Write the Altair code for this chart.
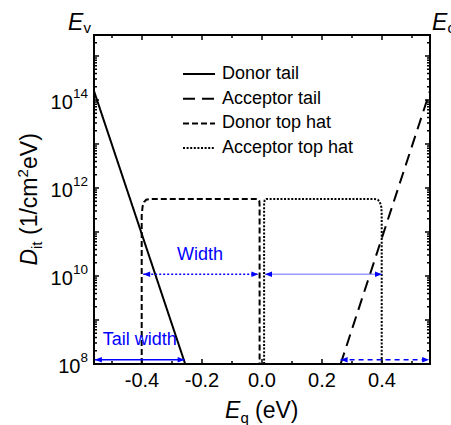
import altair as alt
import pandas as pd

# ---- trap distributions: energy E (eV) vs. interface trap density D_it (1/cm^2 eV)
donor_tail_E = [-0.56, -0.256]
donor_tail_D = [1.6e14, 1e8]

acceptor_tail_E = [0.262, 0.56]
acceptor_tail_D = [1e8, 1.6e14]

donor_hat_E = [-0.401, -0.401, -0.398, -0.393, -0.386, -0.375, -0.013, -0.009, -0.008, -0.008]
donor_hat_D = [1e8, 2.4e11, 3.8e11, 4.8e11, 5.4e11, 5.6e11, 5.6e11, 5.1e11, 4.0e11, 1e8]

acceptor_hat_E = [0.007, 0.007, 0.009, 0.014, 0.376, 0.386, 0.393, 0.398, 0.399, 0.399]
acceptor_hat_D = [1e8, 4.5e11, 5.3e11, 5.6e11, 5.6e11, 5.4e11, 4.8e11, 3.6e11, 2.4e11, 1e8]

series_names = ["Donor tail", "Acceptor tail", "Donor top hat", "Acceptor top hat"]

# ---- blue dimension arrows
arrow_names = ["tail_left", "width_left", "width_right", "tail_right"]
arrow_x1 = [-0.557, -0.396, 0.010, 0.262]
arrow_x2 = [-0.258, -0.012, 0.400, 0.557]
arrow_y = [1.25e8, 1.1e10, 1.1e10, 1.25e8]

note_text = ["Width", "Tail width"]
note_E = [-0.207, -0.531]
note_D = [3.0e10, 3.5e8]

# ---- tick labels
x_label_values = [-0.4, -0.2, 0.0, 0.2, 0.4]
x_label_text = ["-0.4", "-0.2", "0.0", "0.2", "0.4"]
y_label_exponents = [8, 10, 12, 14]

# ---------------------------------------------------------------------------
W, H = 336, 329
FONT = "Liberation Sans"
BLUE = "#0000ff"

xs = alt.Scale(domain=[-0.56, 0.56], nice=False, zero=False)
ys = alt.Scale(type="log", domain=[1e8, 3e15], nice=False)

dash_scale = alt.Scale(
    domain=series_names,
    range=[[1, 0], [12, 7], [6, 3], [2, 1.6]],
)

rows = []
for name, es, ds in [
    ("Donor tail", donor_tail_E, donor_tail_D),
    ("Acceptor tail", acceptor_tail_E, acceptor_tail_D),
    ("Donor top hat", donor_hat_E, donor_hat_D),
    ("Acceptor top hat", acceptor_hat_E, acceptor_hat_D),
]:
    for i, (e, d) in enumerate(zip(es, ds)):
        rows.append({"series": name, "E": e, "D": d, "idx": i})
curves_df = pd.DataFrame(rows)

curves = alt.Chart(curves_df).mark_line(color="black", strokeWidth=2, clip=True).encode(
    x=alt.X("E:Q", scale=xs, axis=None),
    y=alt.Y("D:Q", scale=ys, axis=None),
    strokeDash=alt.StrokeDash("series:N", scale=dash_scale, legend=None),
    detail="series:N",
    order="idx:Q",
)

# ---- plot frame: four edges of the plotting area, in pixels
frame_df = pd.DataFrame({
    "fx1": [-1, -1, 0, W],
    "fx2": [W + 1, W + 1, 0, W],
    "fy1": [0, H, -1, -1],
    "fy2": [0, H, H + 1, H + 1],
})
frame = alt.Chart(frame_df).mark_rule(color="black", strokeWidth=2).encode(
    x=alt.X("fx1:Q", scale=None, axis=None),
    x2="fx2:Q",
    y=alt.Y("fy1:Q", scale=None, axis=None),
    y2="fy2:Q",
)

# ---- arrows: one layer per arrow so each keeps its own line style
arrows_df = pd.DataFrame({"name": arrow_names, "x1": arrow_x1, "x2": arrow_x2, "y": arrow_y})
arrow_styles = {
    "tail_left": dict(strokeDash=[1, 0], strokeWidth=1.5, opacity=1),
    "width_left": dict(strokeDash=[2, 2], strokeWidth=1.5, opacity=1),
    "width_right": dict(strokeDash=[1, 0], strokeWidth=1, opacity=0.6),
    "tail_right": dict(strokeDash=[5, 4], strokeWidth=1.5, opacity=1),
}
arrow_layers = []
for name, style in arrow_styles.items():
    arrow_layers.append(
        alt.Chart(arrows_df).transform_filter(f"datum.name == '{name}'")
        .mark_rule(color=BLUE, **style)
        .encode(
            x=alt.X("x1:Q", scale=xs, axis=None),
            x2="x2:Q",
            y=alt.Y("y:Q", scale=ys, axis=None),
        )
    )
head_left = alt.Chart(arrows_df).mark_point(
    shape="M0,0L2,-0.8L2,0.8Z", filled=True, color=BLUE, size=49, opacity=1
).encode(x=alt.X("x1:Q", scale=xs, axis=None), y=alt.Y("y:Q", scale=ys, axis=None))
head_right = alt.Chart(arrows_df).mark_point(
    shape="M0,0L-2,-0.8L-2,0.8Z", filled=True, color=BLUE, size=49, opacity=1
).encode(x=alt.X("x2:Q", scale=xs, axis=None), y=alt.Y("y:Q", scale=ys, axis=None))

notes_df = pd.DataFrame({"t": note_text, "E": note_E, "D": note_D,
                         "al": ["center", "left"]})
note_width = alt.Chart(notes_df).transform_filter("datum.al == 'center'").mark_text(
    font=FONT, fontSize=18, color=BLUE, align="center", baseline="middle"
).encode(x=alt.X("E:Q", scale=xs, axis=None), y=alt.Y("D:Q", scale=ys, axis=None), text="t:N")
note_tail = alt.Chart(notes_df).transform_filter("datum.al == 'left'").mark_text(
    font=FONT, fontSize=18, color=BLUE, align="left", baseline="middle"
).encode(x=alt.X("E:Q", scale=xs, axis=None), y=alt.Y("D:Q", scale=ys, axis=None), text="t:N")

# ---- legend drawn inside the frame
legend_df = pd.DataFrame({"series": series_names, "row": list(range(len(series_names)))})
legend_base = alt.Chart(legend_df).transform_calculate(ly="39 + datum.row * 24.7")
legend_lines = legend_base.mark_rule(color="black", strokeWidth=2).encode(
    x=alt.value(89), x2=alt.value(121),
    y=alt.Y("ly:Q", scale=None, axis=None),
    strokeDash=alt.StrokeDash("series:N", scale=dash_scale, legend=None),
)
legend_text = legend_base.mark_text(
    font=FONT, fontSize=18, align="left", baseline="middle", color="black"
).encode(x=alt.value(128), y=alt.Y("ly:Q", scale=None, axis=None), text="series:N")

# ---- inward ticks on all four sides
x_major = [-0.4, -0.2, 0.0, 0.2, 0.4]
x_minor = [-0.5, -0.3, -0.1, 0.1, 0.3, 0.5]
y_major = [10.0 ** k for k in range(8, 16)]
y_minor = [m * 10.0 ** k for k in range(8, 16) for m in range(2, 10) if m * 10.0 ** k <= 3e15]


def x_ticks(vals, length):
    base = alt.Chart(pd.DataFrame({"E": vals})).mark_rule(color="black", strokeWidth=1.5)
    enc = dict(x=alt.X("E:Q", scale=xs, axis=None))
    return [base.encode(y=alt.value(H), y2=alt.value(H - length), **enc),
            base.encode(y=alt.value(0), y2=alt.value(length), **enc)]


def y_ticks(vals, length):
    base = alt.Chart(pd.DataFrame({"D": vals})).mark_rule(color="black", strokeWidth=1.5)
    enc = dict(y=alt.Y("D:Q", scale=ys, axis=None))
    return [base.encode(x=alt.value(0), x2=alt.value(length), **enc),
            base.encode(x=alt.value(W), x2=alt.value(W - length), **enc)]


ticks = x_ticks(x_major, 5) + x_ticks(x_minor, 3) + y_ticks(y_major, 5) + y_ticks(y_minor, 3)

# ---- tick labels
xlab_df = pd.DataFrame({"E": x_label_values, "t": x_label_text})
x_labels = alt.Chart(xlab_df).mark_text(
    font=FONT, fontSize=20, align="center", baseline="middle", color="black"
).encode(x=alt.X("E:Q", scale=xs, axis=None), y=alt.value(H + 17), text="t:N")

ylab_df = pd.DataFrame({"exp": y_label_exponents,
                        "D": [10.0 ** e for e in y_label_exponents]})
ylab_base = alt.Chart(ylab_df).transform_calculate(
    px="-6 - 7.6 * length(toString(datum.exp))"
)
y_label_base = ylab_base.mark_text(
    font=FONT, fontSize=20, align="right", baseline="middle", dy=3, color="black"
).encode(x=alt.X("px:Q", scale=None, axis=None), y=alt.Y("D:Q", scale=ys, axis=None),
         text=alt.value("10"))
y_label_exp = ylab_base.mark_text(
    font=FONT, fontSize=13.5, align="right", baseline="middle", dy=-6, color="black"
).encode(x=alt.value(-6), y=alt.Y("D:Q", scale=ys, axis=None), text="exp:N")

# ---- axis titles and band-edge labels built from pieces (italic / sub / superscript)
pieces = pd.DataFrame([
    # x title: E_q (eV)
    {"t": "E", "px": 131, "py": 383, "fs": 23, "ang": 0, "it": 1},
    {"t": "q", "px": 146.5, "py": 388, "fs": 15, "ang": 0, "it": 0},
    {"t": "(eV)", "px": 161, "py": 383, "fs": 23, "ang": 0, "it": 0},
    # y title: D_it (1/cm^2 eV), rotated
    {"t": "D", "px": -57, "py": 230.5, "fs": 23, "ang": 270, "it": 1},
    {"t": "it", "px": -52, "py": 214, "fs": 15, "ang": 270, "it": 0},
    {"t": "(1/cm", "px": -57, "py": 200, "fs": 23, "ang": 270, "it": 0},
    {"t": "2", "px": -66, "py": 142.5, "fs": 15, "ang": 270, "it": 0},
    {"t": "eV)", "px": -57, "py": 134, "fs": 23, "ang": 270, "it": 0},
    # band edges
    {"t": "E", "px": -26, "py": -5, "fs": 23, "ang": 0, "it": 1},
    {"t": "v", "px": -10.5, "py": -2, "fs": 15, "ang": 0, "it": 0},
    {"t": "E", "px": 338, "py": -5, "fs": 23, "ang": 0, "it": 1},
    {"t": "c", "px": 353.5, "py": -2, "fs": 15, "ang": 0, "it": 0},
])


def piece_layer(italic):
    return alt.Chart(pieces).transform_filter(f"datum.it == {italic}").mark_text(
        font=FONT, align="left", baseline="alphabetic", color="black",
        fontStyle="italic" if italic else "normal",
    ).encode(
        x=alt.X("px:Q", scale=None, axis=None),
        y=alt.Y("py:Q", scale=None, axis=None),
        text="t:N",
        size=alt.Size("fs:Q", scale=None, legend=None),
        angle=alt.Angle("ang:Q", scale=None, legend=None),
    )


chart = alt.layer(
    *ticks,
    curves,
    *arrow_layers, head_left, head_right,
    note_width, note_tail,
    legend_lines, legend_text,
    frame,
    x_labels, y_label_base, y_label_exp,
    piece_layer(1), piece_layer(0),
).properties(
    width=W, height=H,
    autosize=alt.AutoSizeParams(type="none"),
    padding={"left": 94, "top": 35, "right": 21, "bottom": 61},
    background="white",
).configure_view(
    stroke=None
)

chart.save("out.html", embed_options={"renderer": "svg", "actions": False})
